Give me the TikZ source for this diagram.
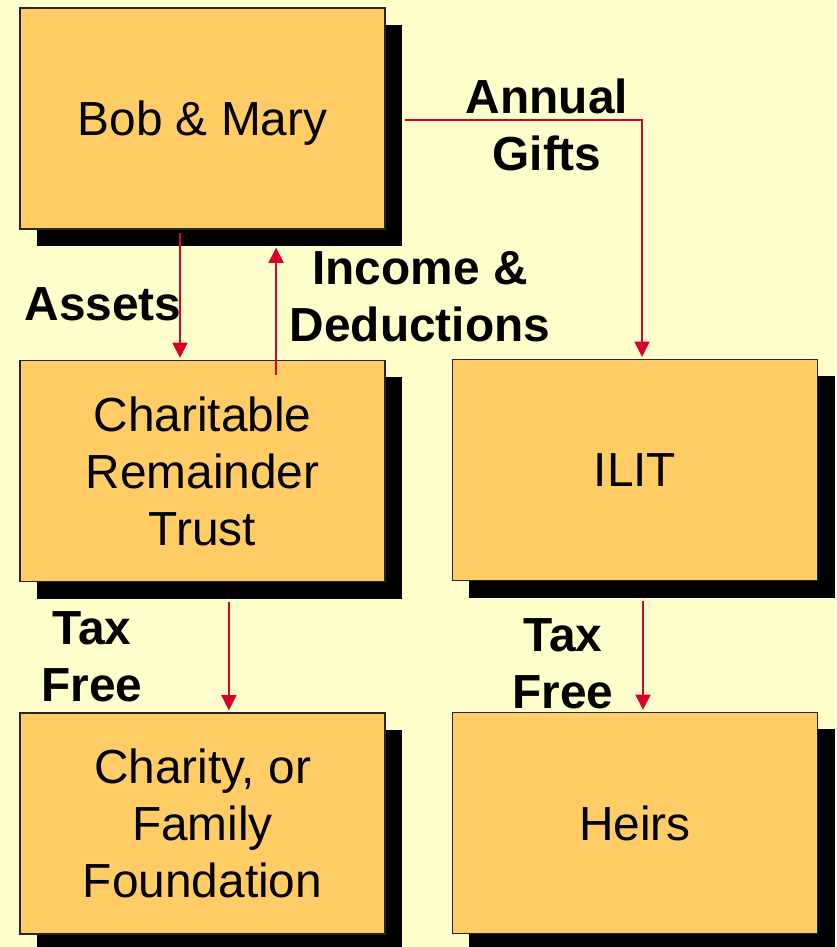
\documentclass[tikz,border=0pt]{standalone}
\usepackage{fontspec}
\setmainfont{Liberation Sans}
\usepackage{xcolor}
\usetikzlibrary{arrows.meta, shadows, positioning, calc}

\definecolor{bgyellow}{HTML}{FFFFCC}
\definecolor{boxorange}{HTML}{FFCC66}
\definecolor{flowred}{HTML}{D9002B}

\begin{document}
\begin{tikzpicture}[x=0.025cm, y=-0.025cm,
    box/.style={draw=black!85, line width=0.8pt, fill=boxorange,
        minimum width=9.125cm, minimum height=5.525cm, align=center,
        font=\fontsize{34}{40.5}\selectfont,
        drop shadow={shadow xshift=0.425cm, shadow yshift=-0.425cm, fill=black, opacity=1}},
    flow/.style={draw=flowred, line width=1.6pt, -{Triangle[width=0.37cm, length=0.38cm]}},
    lbl/.style={align=center, inner sep=0pt, font=\fontsize{34}{40.5}\selectfont\bfseries}]

% background
\fill[bgyellow] (0,0) rectangle (836,947);

% boxes
\node[box, text depth=0pt] (bob) at (202.5, 118.5) {Bob \& Mary};
\node[box] (crt) at (202.5, 471) {Charitable\\Remainder\\Trust};
\node[box] (ilit) at (635, 470) {ILIT};
\node[box] (charity) at (202.5, 823.5) {Charity, or\\Family\\Foundation};
\node[box] (heirs) at (635, 823) {Heirs};

% flows
\draw[flow] ([xshift=-0.5625cm, yshift=-0.075cm]bob.south) -- ([xshift=-0.5625cm, yshift=0.05cm]crt.north);
\draw[flow] ([xshift=1.84cm, yshift=-0.375cm]crt.north) -- ([xshift=1.84cm, yshift=-0.45cm]bob.south);
\draw[flow] ([xshift=0.475cm, yshift=-0.04cm]bob.east) -| ([xshift=0.175cm, yshift=0.05cm]ilit.north);
\draw[flow] ([xshift=0.66cm, yshift=-0.5cm]crt.south) -- ([xshift=0.66cm, yshift=0.05cm]charity.north);
\draw[flow] ([xshift=0.2cm, yshift=-0.5cm]ilit.south) -- ([xshift=0.2cm, yshift=0.05cm]heirs.north);

% labels
\node[lbl] (gifts) at (547, 125) {Annual\\Gifts};
\node[lbl] (income) at (420, 297) {Income \&\\Deductions};
\node[lbl] (assets) at (103, 304) {Assets};
\node[lbl] (taxl) at (92, 657) {Tax\\Free};
\node[lbl] (taxr) at (563, 664) {Tax\\Free};
\end{tikzpicture}
\end{document}
